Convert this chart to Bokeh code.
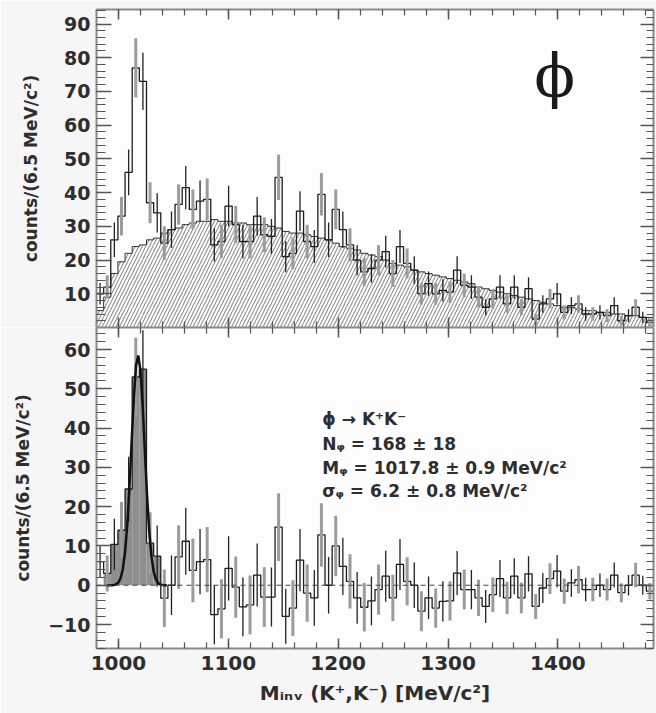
import numpy as np
from bokeh.plotting import figure
from bokeh.models import Range1d, LinearAxis, FixedTicker, Span, Label, CustomLabelingPolicy
from bokeh.layouts import column
from bokeh.embed import file_html
from bokeh.resources import INLINE

# ---------------- data ----------------
BIN_LOW = 980.0      # MeV/c^2, low edge of first bin
BIN_WIDTH = 6.5      # MeV/c^2

# top panel: K+K- invariant-mass counts per bin
raw_counts = [10, 12, 26, 33, 46, 77, 73, 37, 34, 25,
              29, 36.5, 41.5, 35, 37.5, 38, 24.5, 25.5, 36, 30.5,
              25.5, 25.5, 33, 27.5, 27, 44.5, 21, 22, 34.5, 25.5,
              24, 39.5, 26, 35, 29, 24.5, 20, 16.5, 17.5, 20,
              22.5, 16, 24, 19, 17, 10, 13, 10, 11, 10.5,
              17, 12.5, 12, 9, 6, 8.5, 12, 7, 12, 6,
              11.5, 2.5, 7, 8.5, 10, 4.5, 6.5, 7, 4, 4,
              4.5, 3.5, 6.5, 2, 3.5, 6, 3, 1.5]
raw_errors = [3.2, 3.5, 5.1, 5.7, 6.8, 8.8, 8.5, 6.1, 5.8, 5.0,
              5.4, 6.0, 6.4, 5.9, 6.1, 6.2, 4.9, 5.0, 6.0, 5.5,
              5.0, 5.0, 5.7, 5.2, 5.2, 6.7, 4.6, 4.7, 5.9, 5.0,
              4.9, 6.3, 5.1, 5.9, 5.4, 4.9, 4.5, 4.1, 4.2, 4.5,
              4.7, 4.0, 4.9, 4.4, 4.1, 3.2, 3.6, 3.2, 3.3, 3.2,
              4.1, 3.5, 3.5, 3.0, 2.4, 2.9, 3.5, 2.6, 3.5, 2.4,
              3.4, 1.6, 2.6, 2.9, 3.2, 2.1, 2.5, 2.6, 2.0, 2.0,
              2.1, 1.9, 2.5, 1.4, 1.9, 2.4, 1.7, 1.2]
# top panel: combinatorial background (hatched)
background = [5, 9, 16, 19.5, 22, 24, 24.5, 26, 26.5, 28,
              29, 29.5, 30.5, 31, 31.5, 31.5, 32, 31.5, 31.5, 31,
              31, 30.5, 30.5, 30.5, 30, 29.5, 28.5, 28, 28, 27.5,
              27, 26.5, 26, 25, 24, 23.5, 23, 22, 21.5, 21,
              20, 19, 18.5, 18, 17, 16.5, 16, 15.5, 15, 14.5,
              14, 13.5, 13, 12, 11.5, 11, 10.5, 10, 9.5, 9,
              8.5, 8, 7.5, 7, 6.5, 6, 6, 5.5, 5, 5,
              4.5, 4.5, 4, 4, 3.5, 3.5, 3, 3]
# bottom panel: background-subtracted counts
sub_counts = [6, 3, 10.4, 14, 24.5, 53, 55, 10.7, 7.4, -3.3,
              0, 7.2, 11.2, 3.8, 6, 6.5, -7.5, -6, 4.3, -0.5,
              -5.5, -5, 2.6, -3, -3, 14.8, -7.9, -5.8, 6.4, -2,
              -3.2, 12.8, 0, 10, 4.8, 1, -3.2, -5.6, -4, -1.1,
              2.3, -3.2, 5.3, 1, 0, -6.6, -3.2, -5.8, -4.1, -4,
              3.1, -1.1, -1.1, -3.2, -5.4, -2.4, 1.7, -3.2, 2.3, -3.2,
              2.9, -5.4, -0.7, 1.7, 3.6, -1.5, 0.6, 1.4, -1.1, -1.1,
              0, -1.1, 2.6, -1.9, 0, 2.6, 0, -1.5]
sub_errors = [3.9, 4.6, 6.5, 7.2, 8.2, 10.0, 9.9, 7.9, 7.8, 7.3,
              7.6, 8.1, 8.5, 8.1, 8.3, 8.3, 7.5, 7.5, 8.2, 7.8,
              7.5, 7.5, 8.0, 7.6, 7.5, 8.6, 7.0, 7.1, 7.9, 7.3,
              7.1, 8.1, 7.2, 7.7, 7.3, 6.9, 6.6, 6.2, 6.2, 6.4,
              6.5, 5.9, 6.5, 6.1, 5.8, 5.1, 5.4, 5.0, 5.1, 5.0,
              5.6, 5.1, 5.0, 4.6, 4.2, 4.4, 4.7, 4.1, 4.6, 3.9,
              4.5, 3.2, 3.8, 3.9, 4.1, 3.2, 3.5, 3.5, 3.0, 3.0,
              3.0, 2.8, 3.2, 2.4, 2.6, 3.1, 2.4, 2.1]
SIGNAL_FIRST, SIGNAL_LAST = 1, 8   # bins shaded grey in the lower panel

# Gaussian fit curve
fit_mass = [990, 992, 994, 996, 998, 1000, 1002, 1004, 1006, 1008,
            1010, 1012, 1014, 1016, 1018, 1020, 1022, 1024, 1026, 1028,
            1030, 1032, 1034, 1036, 1038, 1040, 1042, 1044]
fit_counts = [0.0, 0.0, 0.02, 0.08, 0.25, 0.72, 1.83, 4.15, 8.46, 15.4,
              25.1, 36.7, 47.9, 55.9, 58.5, 54.7, 45.8, 34.3, 23.0, 13.8,
              7.4, 3.56, 1.53, 0.59, 0.2, 0.06, 0.02, 0.0]

x_major = [1000, 1100, 1200, 1300, 1400]
x_minor = list(range(980, 1500, 20))
top_y_major = [10, 20, 30, 40, 50, 60, 70, 80, 90]
top_y_minor = list(range(0, 96, 2))
bot_y_major = [-10, 0, 10, 20, 30, 40, 50, 60]
bot_y_minor = list(range(-16, 68, 2))

fit_text = ["ϕ → K⁺K⁻",
            "Nᵩ = 168 ± 18",
            "Mᵩ = 1017.8 ± 0.9 MeV/c²",
            "σᵩ = 6.2 ± 0.8 MeV/c²"]
panel_symbol = "ϕ"
y_title = "counts/(6.5 MeV/c²)"
x_title = "Mᵢₙᵥ (K⁺,K⁻) [MeV/c²]"

# ---------------- geometry from bins ----------------
n = len(raw_counts)
left = BIN_LOW + BIN_WIDTH * np.arange(n)
right = left + BIN_WIDTH
center = left + BIN_WIDTH / 2
edges = np.append(left, right[-1])
X_MIN, X_MAX = edges[0], edges[-1]

raw = np.array(raw_counts, float)
rerr = np.array(raw_errors, float)
bkg = np.array(background, float)
sub = np.array(sub_counts, float)
serr = np.array(sub_errors, float)

AX_COL = "#8a8a8a"
TICK_COL = "#555555"
TXT = "#2e2e2e"
FONT = "DejaVu Sans"

NO_LABEL_CODE = """
for (const i of [...indices]) { indices.unset(i) }
return indices
"""


def style_axis(ax, ticks, minor, tin, minin, labels, size="19px", standoff=6):
    ax.ticker = FixedTicker(ticks=ticks, minor_ticks=minor)
    ax.axis_line_color = AX_COL
    ax.axis_line_width = 2
    ax.major_tick_line_color = TICK_COL
    ax.minor_tick_line_color = TICK_COL
    ax.major_tick_line_width = 1.5
    ax.minor_tick_line_width = 1.2
    ax.major_tick_in = tin
    ax.major_tick_out = 0
    ax.minor_tick_in = minin
    ax.minor_tick_out = 0
    ax.major_label_text_font = FONT
    ax.major_label_text_font_style = "bold"
    ax.major_label_text_color = TXT
    if labels:
        ax.major_label_text_font_size = size
        ax.major_label_standoff = standoff
    else:
        ax.major_label_text_font_size = "0px"
        ax.major_label_standoff = 0
        ax.major_label_policy = CustomLabelingPolicy(code=NO_LABEL_CODE)


def make_fig(y0, y1, fh, top_b, bot_b):
    p = figure(x_range=Range1d(X_MIN, X_MAX), y_range=Range1d(y0, y1),
               frame_width=557, frame_height=fh,
               min_border_left=96, min_border_right=3,
               min_border_top=top_b, min_border_bottom=bot_b,
               output_backend="svg", toolbar_location=None)
    p.grid.visible = False
    p.outline_line_color = None
    p.background_fill_color = "#fdfdfd"
    p.border_fill_color = "#f6f6f6"
    return p


def draw_hist(p, vals, errs):
    p.step(x=edges, y=np.append(vals, vals[-1]), mode="after",
           line_color="#1c1c1c", line_width=1.3)
    even = np.arange(n) % 2 == 0
    odd = ~even
    p.segment(x0=center[odd], y0=(vals - errs)[odd], x1=center[odd], y1=(vals + errs)[odd],
              line_color="#9c9c9c", line_width=3)
    p.segment(x0=center[even], y0=(vals - errs)[even], x1=center[even], y1=(vals + errs)[even],
              line_color="#222222", line_width=1.3)


# ---------------- top panel ----------------
top = make_fig(0, 94.3, 318, 9, 0)
top.quad(left=left, right=right, bottom=0, top=bkg,
         fill_alpha=0, line_alpha=0,
         hatch_pattern="/", hatch_color="#5a5a5a", hatch_scale=7, hatch_weight=0.8)
top.step(x=edges, y=np.append(bkg, bkg[-1]), mode="after", line_color="#333333", line_width=1)
draw_hist(top, raw, rerr)

style_axis(top.xaxis[0], x_major, x_minor, 10, 6, False)
style_axis(top.yaxis[0], top_y_major, top_y_minor, 15, 9, True, "19px", 6)
top.yaxis[0].axis_label = y_title
top.yaxis[0].axis_label_text_font = FONT
top.yaxis[0].axis_label_text_font_style = "bold"
top.yaxis[0].axis_label_text_font_size = "17px"
top.yaxis[0].axis_label_text_color = TXT
top.yaxis[0].axis_label_standoff = 20
ax = LinearAxis(); top.add_layout(ax, "above"); style_axis(ax, x_major, x_minor, 10, 6, False)
ax = LinearAxis(); top.add_layout(ax, "right"); style_axis(ax, top_y_major, top_y_minor, 13, 7, False)

top.add_layout(Label(x=1397, y=74.5, text=panel_symbol, text_font="DejaVu Serif",
                     text_font_size="60px", text_align="center", text_baseline="middle",
                     text_color="#1a1a1a"))

# ---------------- bottom panel ----------------
bot = make_fig(-16.1, 65.6, 321, 0, 65)
sl = slice(SIGNAL_FIRST, SIGNAL_LAST + 1)
bot.quad(left=left[sl], right=right[sl], bottom=0, top=sub[sl],
         fill_color="#8e8e8e", line_alpha=0)
bot.add_layout(Span(location=0, dimension="width", line_color="#444444",
                    line_dash="5 4", line_width=1))
draw_hist(bot, sub, serr)
bot.line(fit_mass, fit_counts, line_color="#111111", line_width=2.5)

style_axis(bot.xaxis[0], x_major, x_minor, 10, 6, True, "20px", 7)
bot.xaxis[0].axis_label = x_title
bot.xaxis[0].axis_label_text_font = FONT
bot.xaxis[0].axis_label_text_font_style = "bold"
bot.xaxis[0].axis_label_text_font_size = "20px"
bot.xaxis[0].axis_label_text_color = TXT
bot.xaxis[0].axis_label_standoff = 8
style_axis(bot.yaxis[0], bot_y_major, bot_y_minor, 15, 9, True, "19px", 6)
bot.yaxis[0].axis_label = y_title
bot.yaxis[0].axis_label_text_font = FONT
bot.yaxis[0].axis_label_text_font_style = "bold"
bot.yaxis[0].axis_label_text_font_size = "17px"
bot.yaxis[0].axis_label_text_color = TXT
bot.yaxis[0].axis_label_standoff = 12
ax = LinearAxis(); bot.add_layout(ax, "above"); style_axis(ax, x_major, x_minor, 10, 6, False)
ax = LinearAxis(); bot.add_layout(ax, "right"); style_axis(ax, bot_y_major, bot_y_minor, 13, 7, False)

for txt, yv in zip(fit_text, [42.3, 36.0, 29.8, 23.9]):
    bot.add_layout(Label(x=1185.5, y=yv, text=txt, text_font=FONT, text_font_style="bold",
                         text_font_size="17px", text_align="left", text_baseline="middle",
                         text_color=TXT))

layout = column(top, bot, spacing=0)
open("out.html", "w").write(file_html(layout, INLINE))
